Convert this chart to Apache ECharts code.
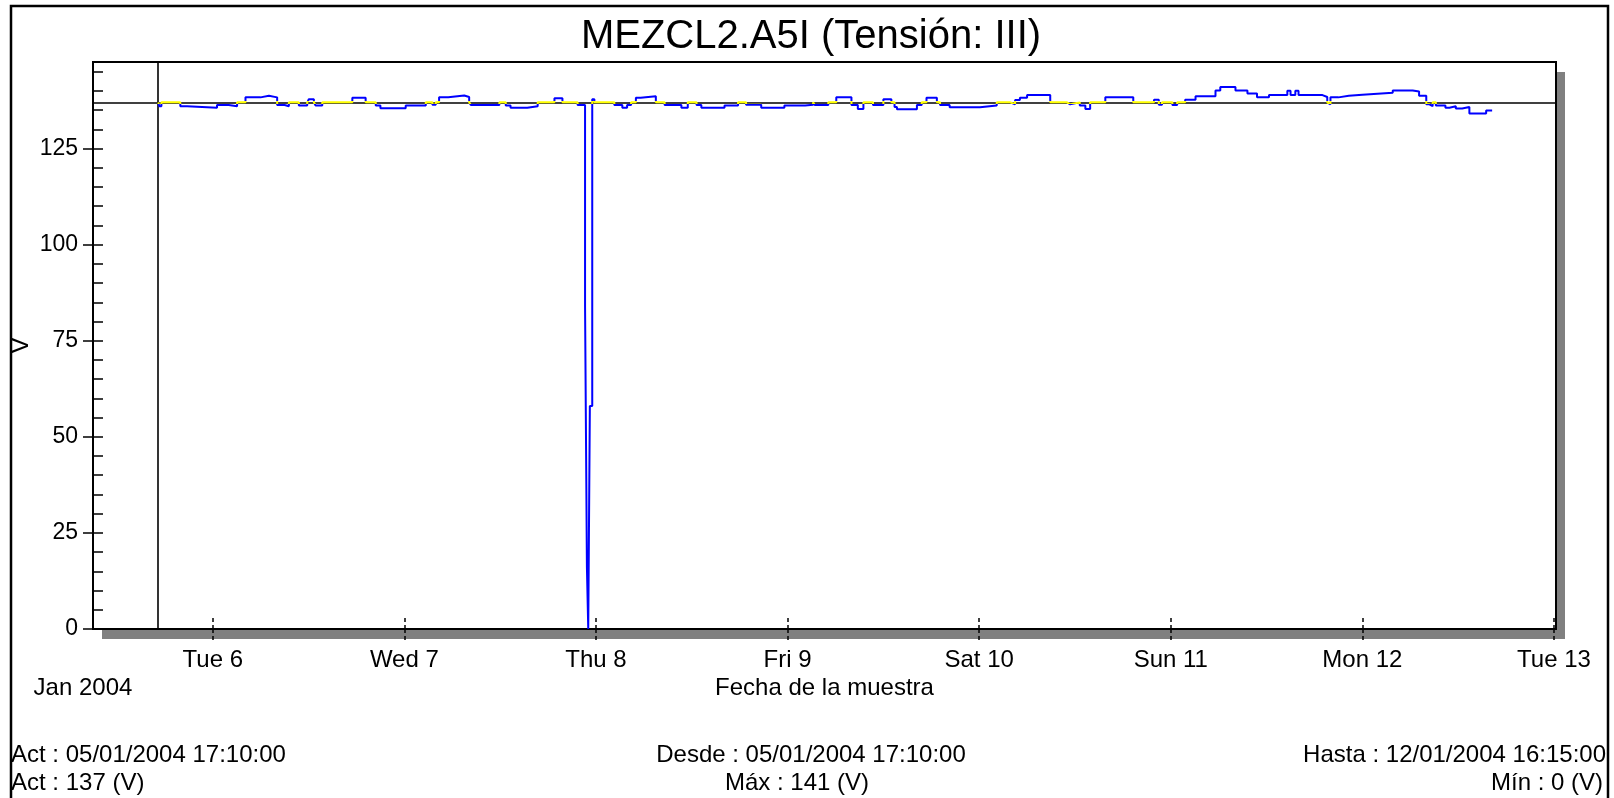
<!DOCTYPE html>
<html><head><meta charset="utf-8">
<script src="https://cdn.jsdelivr.net/npm/echarts@6/dist/echarts.min.js"></script>
<style>html,body{margin:0;padding:0;background:#fff}#c{width:1614px;height:798px}</style>
</head><body><div id="c"></div>
<script>
const titleText = 'MEZCL2.A5I (Tensión: III)';
const sampleTimes = [
'2004-01-05 17:10','2004-01-05 17:18','2004-01-05 17:34','2004-01-05 19:56','2004-01-05 20:47',
'2004-01-06 00:32','2004-01-06 02:00','2004-01-06 03:03','2004-01-06 04:06','2004-01-06 05:59',
'2004-01-06 07:02','2004-01-06 08:04','2004-01-06 09:00','2004-01-06 09:32','2004-01-06 10:47',
'2004-01-06 11:50','2004-01-06 12:02','2004-01-06 12:40','2004-01-06 12:53','2004-01-06 13:43',
'2004-01-06 17:29','2004-01-06 19:09','2004-01-06 20:25','2004-01-06 21:00','2004-01-07 00:10',
'2004-01-07 02:41','2004-01-07 03:31','2004-01-07 03:56','2004-01-07 04:21','2004-01-07 05:30',
'2004-01-07 07:30','2004-01-07 08:07','2004-01-07 08:20','2004-01-07 11:54','2004-01-07 12:42',
'2004-01-07 13:18','2004-01-07 15:24','2004-01-07 16:42','2004-01-07 18:48','2004-01-07 19:48',
'2004-01-07 21:42','2004-01-07 22:38','2004-01-07 22:52','2004-01-07 23:02','2004-01-07 23:14',
'2004-01-07 23:32','2004-01-07 23:48','2004-01-08 02:18','2004-01-08 03:18','2004-01-08 03:54',
'2004-01-08 04:24','2004-01-08 05:00','2004-01-08 05:36','2004-01-08 07:30','2004-01-08 08:36',
'2004-01-08 10:42','2004-01-08 11:30','2004-01-08 12:36','2004-01-08 13:12','2004-01-08 16:06',
'2004-01-08 17:48','2004-01-08 18:48','2004-01-08 20:42','2004-01-08 23:36','2004-01-09 02:12',
'2004-01-09 03:12','2004-01-09 03:24','2004-01-09 05:06','2004-01-09 06:06','2004-01-09 08:00',
'2004-01-09 08:48','2004-01-09 09:30','2004-01-09 10:42','2004-01-09 12:00','2004-01-09 13:00',
'2004-01-09 13:24','2004-01-09 13:42','2004-01-09 16:12','2004-01-09 16:48','2004-01-09 17:24',
'2004-01-09 18:42','2004-01-09 19:06','2004-01-09 20:18','2004-01-10 00:06','2004-01-10 02:12',
'2004-01-10 03:54','2004-01-10 04:30','2004-01-10 05:06','2004-01-10 06:00','2004-01-10 08:54',
'2004-01-10 11:00','2004-01-10 11:24','2004-01-10 12:36','2004-01-10 13:18','2004-01-10 13:54',
'2004-01-10 15:48','2004-01-10 19:18','2004-01-10 21:54','2004-01-10 22:30','2004-01-10 22:54',
'2004-01-11 00:12','2004-01-11 00:48','2004-01-11 01:48','2004-01-11 03:06','2004-01-11 05:36',
'2004-01-11 06:12','2004-01-11 08:06','2004-01-11 09:36','2004-01-11 10:48','2004-01-11 12:18',
'2004-01-11 14:36','2004-01-11 15:00','2004-01-11 15:36','2004-01-11 16:00','2004-01-11 19:00',
'2004-01-11 19:36','2004-01-11 19:48','2004-01-11 20:00','2004-01-11 21:00','2004-01-11 22:18',
'2004-01-12 00:00','2004-01-12 03:48','2004-01-12 06:18','2004-01-12 07:06','2004-01-12 08:00',
'2004-01-12 08:24','2004-01-12 08:48','2004-01-12 09:12','2004-01-12 10:24','2004-01-12 10:54',
'2004-01-12 11:42','2004-01-12 12:30','2004-01-12 13:24','2004-01-12 15:30','2004-01-12 16:15'
];
const voltage = [
137,136,137,136,135.6,
136.3,136,137,138.3,138.7,
138.3,136.3,136,137,136.2,
137,137.8,137,136.2,137,
138.2,137,136.2,135.5,136.2,
137,136.4,137,138.3,138.8,
138.4,137,136.3,137,136.2,
135.6,136,137,138.1,137,
136.3,84,16,0,58,
137.8,137,136.3,135.6,136.3,
137,138.2,138.6,137,136.3,
135.6,137,136.3,135.6,136.2,
137,136.4,135.6,136.2,136.4,
137,136.3,137,138.3,136.3,
135.3,137,136.3,137.8,137,
135.8,135.2,136.3,137,138.2,
137,136.3,135.7,136.2,137,
136.5,137.6,138.2,138.9,137,
136.5,137,136.2,135.3,137,
138.3,137,137.7,136.4,137,
136.3,137,137.7,138.6,140.1,
141,140.1,139.3,138.3,138.9,
140,138.9,140,138.9,138.4,
137,136.5,138.3,138.7,139,
139.5,140.1,139.8,138.7,136.5,
136,137,136.2,135.6,136,
135.4,135.8,134.1,134.9,134.9
];
const refValue = 137;
const startTime = '2004-01-05 17:10';
const xMin = '2004-01-05 09:00';
const xMax = '2004-01-13 00:15';
const xTickTimes = ['2004-01-06 00:00','2004-01-07 00:00','2004-01-08 00:00','2004-01-09 00:00','2004-01-10 00:00','2004-01-11 00:00','2004-01-12 00:00','2004-01-13 00:00'];
const xTickLabels = ['Tue 6','Wed 7','Thu 8','Fri 9','Sat 10','Sun 11','Mon 12','Tue 13'];
const yMajorTicks = [0,25,50,75,100,125];
const yMinorTicks = [0,5,10,15,20,25,30,35,40,45,50,55,60,65,70,75,80,85,90,95,100,105,110,115,120,125,130,135,140,145];
const yMin = 0, yMax = 147.5;
const yAxisName = 'V';
const xAxisName = 'Fecha de la muestra';
const monthLabel = 'Jan 2004';
const footerLeft = ['Act : 05/01/2004 17:10:00', 'Act : 137 (V)'];
const footerMid = ['Desde : 05/01/2004 17:10:00', 'Máx : 141 (V)'];
const footerRight = ['Hasta : 12/01/2004 16:15:00', 'Mín : 0 (V)'];

function ts(s) {
  const [d, t] = s.split(' ');
  const [Y, M, D] = d.split('-').map(Number);
  const [h, m] = t.split(':').map(Number);
  return Date.UTC(Y, M - 1, D, h, m);
}
const FONT = '"Liberation Sans", Arial, sans-serif';
const tickVals = xTickTimes.map(ts);
const seriesData = sampleTimes.map((t, i) => [ts(t), voltage[i]]);

const chart = echarts.init(document.getElementById('c'), null, {renderer: 'canvas'});
const txt = (text, x, y, align) => ({
  type: 'text', x: x, y: y, silent: true,
  style: {text: text, fill: '#000', font: '24px ' + FONT, textAlign: align, textVerticalAlign: 'middle'}
});
chart.setOption({
  animation: false,
  backgroundColor: '#fff',
  title: {
    text: titleText, left: 811, textAlign: 'center', top: 17, padding: 0,
    textStyle: {fontFamily: FONT, fontSize: 40, fontWeight: 'normal', color: '#000'}
  },
  grid: {
    left: 93, top: 62, right: 58, bottom: 169, show: true,
    backgroundColor: '#fff', borderColor: '#000', borderWidth: 2,
    outerBoundsMode: 'none', containLabel: false
  },
  visualMap: {
    type: 'piecewise', show: false, seriesIndex: 0, dimension: 1,
    pieces: [
      {lt: 136.6, color: '#0000ff'},
      {gte: 136.6, lte: 137.4, color: '#ffff00'},
      {gt: 137.4, color: '#0000ff'}
    ]
  },
  xAxis: [
    {
      type: 'value', min: ts(xMin), max: ts(xMax), position: 'bottom',
      axisLine: {show: true, lineStyle: {color: '#000', width: 2}},
      axisTick: {show: true, inside: true, length: 13, customValues: tickVals, lineStyle: {color: '#000', width: 1.5, type: [4, 3]}},
      axisLabel: {show: false}, splitLine: {show: false},
      name: xAxisName, nameLocation: 'middle', nameGap: 47,
      nameTextStyle: {fontFamily: FONT, fontSize: 24, color: '#000'}
    },
    {
      type: 'value', min: ts(xMin), max: ts(xMax), position: 'bottom',
      axisLine: {show: false},
      axisTick: {show: true, inside: false, length: 13, customValues: tickVals, lineStyle: {color: '#000', width: 1.5, type: [4, 3]}},
      axisLabel: {
        customValues: tickVals, margin: 19, fontFamily: FONT, fontSize: 24, color: '#000',
        formatter: v => { const i = tickVals.indexOf(v); return i >= 0 ? xTickLabels[i] : ''; }
      },
      splitLine: {show: false}
    }
  ],
  yAxis: [
    {
      type: 'value', min: yMin, max: yMax, position: 'left',
      axisLine: {show: true, lineStyle: {color: '#000', width: 2}},
      axisTick: {show: true, inside: true, length: 10, customValues: yMinorTicks, lineStyle: {color: '#000', width: 1.5}},
      axisLabel: {show: false}, splitLine: {show: false},
      name: yAxisName, nameLocation: 'middle', nameGap: 60, nameRotate: 90,
      nameTextStyle: {fontFamily: FONT, fontSize: 24, color: '#000'}
    },
    {
      type: 'value', min: yMin, max: yMax, position: 'left',
      axisLine: {show: false},
      axisTick: {show: true, inside: false, length: 10, customValues: yMajorTicks, lineStyle: {color: '#000', width: 1.5}},
      axisLabel: {customValues: yMajorTicks, margin: 15, fontFamily: FONT, fontSize: 23, color: '#000'},
      splitLine: {show: false}
    }
  ],
  graphic: [
    {type: 'rect', z: -10, silent: true, shape: {x: 102, y: 72, width: 1463, height: 567}, style: {fill: '#808080'}},
    {type: 'rect', z: 100, silent: true, shape: {x: 11, y: 6, width: 1597, height: 830}, style: {fill: null, stroke: '#000', lineWidth: 2.5}},
    txt(monthLabel, 83, 688, 'center'),
    txt(footerLeft[0], 11, 755, 'left'),
    txt(footerLeft[1], 11, 783, 'left'),
    txt(footerMid[0], 811, 755, 'center'),
    txt(footerMid[1], 797, 783, 'center'),
    txt(footerRight[0], 1606, 755, 'right'),
    txt(footerRight[1], 1603, 783, 'right')
  ],
  series: [
    {
      type: 'line', name: 'Tensión', xAxisIndex: 0, yAxisIndex: 0,
      data: seriesData, step: 'end', showSymbol: false, symbol: 'none',
      lineStyle: {width: 2}, z: 5, silent: true
    },
    {
      type: 'line', xAxisIndex: 0, yAxisIndex: 0, data: [[ts(startTime), refValue]],
      symbol: 'none', showSymbol: false, lineStyle: {opacity: 0}, z: 2, silent: true,
      markLine: {
        silent: true, symbol: 'none', animation: false, label: {show: false},
        lineStyle: {color: '#000', width: 1.6, type: 'solid'},
        emphasis: {disabled: true},
        data: [{yAxis: refValue}, {xAxis: ts(startTime)}]
      }
    }
  ]
});
</script></body></html>
